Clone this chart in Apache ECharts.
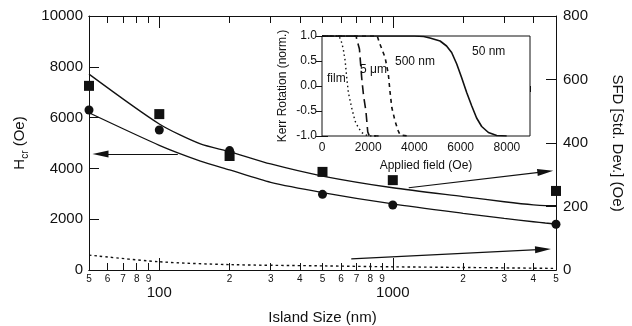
<!DOCTYPE html>
<html><head><meta charset="utf-8">
<script src="https://cdn.jsdelivr.net/npm/echarts@6/dist/echarts.min.js"></script>
<style>html,body{margin:0;padding:0;background:#fff}#c{width:632px;height:326px}</style>
</head><body><div id="c"></div>
<script>
// ---- main plot data ----
const sizes = [50, 100, 200, 500, 1000, 5000];
const hcrPoints = [6300, 5510, 4700, 2980, 2560, 1800];
const sfdPoints = [580, 491, 359, 309, 283, 249];
const fitSizes = [50, 100, 150, 200, 300, 500, 1000, 2000, 3000, 4000, 4500, 5000];
const hcrFit = [6190, 4910, 4290, 3940, 3450, 3050, 2600, 2230, 2030, 1900, 1850, 1810];
const sfdFit = [617, 460, 397, 373, 334, 296, 259, 231, 215, 205, 203, 203];
const dottedSizes = [50, 100, 200, 500, 1000, 2000, 5000];
const sfdDotted = [47, 26, 17, 13, 10, 8, 5];
// arrows: [tail, tip] in data values
const arrowHcr = [[120, 4570], [56, 4570]];
const arrowSfdUpper = [[1170, 259], [4500, 310]];
const arrowSfdLower = [[664, 35], [4400, 65]];
// ticks
const majorTicks = [100, 1000];
const minorTicks = [50, 60, 70, 80, 90, 200, 300, 400, 500, 600, 700, 800, 900, 2000, 3000, 4000, 5000];
// ---- inset data ----
const kerr50nmX = [0, 1000, 2000, 3000, 4000, 4400, 4670, 5110, 5390, 5610, 5830, 6040, 6260, 6480, 6690, 6910, 7200, 7560, 7990];
const kerr50nmY = [1, 1, 1, 1, 1, 0.99, 0.96, 0.9, 0.8, 0.67, 0.44, 0.17, -0.13, -0.4, -0.64, -0.81, -0.93, -0.99, -1];
const kerr500nmX = [0, 2390, 2480, 2730, 2870, 2940, 3020, 3160, 3300, 3380, 3700];
const kerr500nmY = [1, 1, 0.87, 0.57, 0.24, -0.1, -0.43, -0.7, -0.9, -0.98, -1];
const kerr5umX = [0, 1480, 1500, 1620, 1720, 1800, 1900, 1980, 2050, 2450];
const kerr5umY = [1, 1, 0.94, 0.74, 0.15, -0.2, -0.5, -0.92, -1, -1];
const kerrFilmX = [0, 700, 810, 920, 1000, 1070, 1140, 1280, 1430, 1570, 1720, 1860, 2000, 2450];
const kerrFilmY = [1, 1, 0.94, 0.74, 0.51, 0.17, -0.13, -0.43, -0.7, -0.83, -0.93, -0.97, -1, -1];

const FONT = '"Liberation Sans", Arial, Helvetica, sans-serif';
const INK = '#111';
const zip = (a, b) => a.map((v, i) => [v, b[i]]);
const plain = v => String(v);

function logAxis(position, ticks, len, labelOpt, extra) {
  return Object.assign({
    type: 'log', logBase: 10, gridIndex: 0, min: 50, max: 5000, position: position,
    axisLine: { show: true, lineStyle: { color: INK, width: 1 } },
    axisTick: { show: true, inside: true, length: len, customValues: ticks, lineStyle: { color: INK } },
    axisLabel: labelOpt ? Object.assign({ show: true, customValues: ticks, color: INK, fontFamily: FONT, formatter: plain }, labelOpt) : { show: false },
    splitLine: { show: false }, minorTick: { show: false }
  }, extra || {});
}
function arrowLine(pair) {
  return [{ coord: pair[0] }, { coord: pair[1] }];
}

const chart = echarts.init(document.getElementById('c'));
const option = {
  animation: false,
  backgroundColor: '#fff',
  textStyle: { fontFamily: FONT, color: INK },
  grid: [
    { left: 89, right: 76, top: 16, bottom: 56, outerBoundsMode: 'none', containLabel: false },
    { left: 322, top: 36, width: 208, height: 100, outerBoundsMode: 'none', containLabel: false,
      show: true, backgroundColor: '#fff', borderColor: INK, borderWidth: 1, z: 5 }
  ],
  xAxis: [
    logAxis('bottom', majorTicks, 12, { fontSize: 15, margin: 15 },
      { name: 'Island Size (nm)', nameLocation: 'middle', nameGap: 40,
        nameTextStyle: { fontSize: 15, color: INK, fontFamily: FONT } }),
    logAxis('bottom', minorTicks, 7, { fontSize: 10, margin: 4, formatter: v => String(v).charAt(0) }),
    logAxis('top', majorTicks, 12, null),
    logAxis('top', minorTicks, 7, null),
    { type: 'value', gridIndex: 1, min: 0, max: 9000, interval: 2000, position: 'bottom',
      axisLine: { show: true, lineStyle: { color: INK } },
      axisTick: { show: true, inside: true, length: 6, lineStyle: { color: INK } },
      axisLabel: { show: true, fontSize: 12, margin: 6, color: INK, fontFamily: FONT, showMaxLabel: false, formatter: plain },
      splitLine: { show: false },
      name: 'Applied field (Oe)', nameLocation: 'middle', nameGap: 24,
      nameTextStyle: { fontSize: 12, color: INK, fontFamily: FONT } },
    { type: 'value', gridIndex: 1, min: 0, max: 9000, interval: 2000, position: 'top',
      axisLine: { show: true, lineStyle: { color: INK } },
      axisTick: { show: true, inside: true, length: 6, lineStyle: { color: INK } },
      axisLabel: { show: false }, splitLine: { show: false } }
  ],
  yAxis: [
    { type: 'value', gridIndex: 0, min: 0, max: 10000, interval: 2000, position: 'left',
      axisLine: { show: true, lineStyle: { color: INK } },
      axisTick: { show: true, inside: true, length: 10, lineStyle: { color: INK } },
      axisLabel: { fontSize: 15, margin: 6, color: INK, fontFamily: FONT, formatter: plain },
      splitLine: { show: false },
      name: '{h|H}{s|cr}{h| (Oe)}', nameLocation: 'middle', nameGap: 58, nameRotate: 90,
      nameTextStyle: { color: INK, fontFamily: FONT, rich: {
        h: { fontSize: 15, fontFamily: FONT, color: INK, verticalAlign: 'top' },
        s: { fontSize: 10, fontFamily: FONT, color: INK, verticalAlign: 'top', padding: [8, 0, 0, 0] } } } },
    { type: 'value', gridIndex: 0, min: 0, max: 800, interval: 200, position: 'right',
      axisLine: { show: true, lineStyle: { color: INK } },
      axisTick: { show: true, inside: true, length: 10, lineStyle: { color: INK } },
      axisLabel: { fontSize: 15, margin: 7, color: INK, fontFamily: FONT, formatter: plain },
      splitLine: { show: false },
      name: 'SFD [Std. Dev.] (Oe)', nameLocation: 'middle', nameGap: 54, nameRotate: -90,
      nameTextStyle: { fontSize: 15, color: INK, fontFamily: FONT } },
    { type: 'value', gridIndex: 1, min: -1, max: 1, interval: 0.5, position: 'left',
      axisLine: { show: true, lineStyle: { color: INK } },
      axisTick: { show: true, inside: true, length: 6, lineStyle: { color: INK } },
      axisLabel: { fontSize: 12, margin: 5, color: INK, fontFamily: FONT, formatter: v => v.toFixed(1) },
      splitLine: { show: false },
      name: 'Kerr Rotation (norm.)', nameLocation: 'middle', nameGap: 33, nameRotate: 90,
      nameTextStyle: { fontSize: 12, color: INK, fontFamily: FONT } },
    { type: 'value', gridIndex: 1, min: -1, max: 1, interval: 0.5, position: 'right',
      axisLine: { show: true, lineStyle: { color: INK } },
      axisTick: { show: true, inside: true, length: 6, lineStyle: { color: INK } },
      axisLabel: { show: false }, splitLine: { show: false } }
  ],
  series: [
    { type: 'line', name: 'Hcr fit', xAxisIndex: 0, yAxisIndex: 0, data: zip(fitSizes, hcrFit),
      smooth: 0.25, showSymbol: false, lineStyle: { color: INK, width: 1.3 }, silent: true,
      markLine: { silent: true, symbol: ['none', 'triangle'], symbolSize: [7, 16], label: { show: false },
        lineStyle: { color: INK, width: 1.2, type: 'solid' }, data: [arrowLine(arrowHcr)] } },
    { type: 'line', name: 'SFD fit', xAxisIndex: 0, yAxisIndex: 1, data: zip(fitSizes, sfdFit),
      smooth: 0.25, showSymbol: false, lineStyle: { color: INK, width: 1.3 }, silent: true,
      markLine: { silent: true, symbol: ['none', 'triangle'], symbolSize: [7, 16], label: { show: false },
        lineStyle: { color: INK, width: 1.2, type: 'solid' }, data: [arrowLine(arrowSfdUpper), arrowLine(arrowSfdLower)] } },
    { type: 'line', name: 'SFD dotted', xAxisIndex: 0, yAxisIndex: 1, data: zip(dottedSizes, sfdDotted),
      smooth: 0.3, showSymbol: false, lineStyle: { color: INK, width: 1.4, type: [2.5, 3] }, silent: true },
    { type: 'scatter', name: 'SFD', xAxisIndex: 0, yAxisIndex: 1, data: zip(sizes, sfdPoints),
      symbol: 'rect', symbolSize: 10, itemStyle: { color: INK, opacity: 1 }, z: 4 },
    { type: 'scatter', name: 'Hcr', xAxisIndex: 0, yAxisIndex: 0, data: zip(sizes, hcrPoints),
      symbol: 'circle', symbolSize: 9, itemStyle: { color: INK, opacity: 1 }, z: 4 },
    { type: 'line', name: '50 nm', xAxisIndex: 4, yAxisIndex: 2, data: zip(kerr50nmX, kerr50nmY),
      showSymbol: false, lineStyle: { color: INK, width: 1.6 }, z: 6 },
    { type: 'line', name: '500 nm', xAxisIndex: 4, yAxisIndex: 2, data: zip(kerr500nmX, kerr500nmY),
      showSymbol: false, lineStyle: { color: INK, width: 1.6, type: [4, 4] }, z: 6 },
    { type: 'line', name: '5 μm', xAxisIndex: 4, yAxisIndex: 2, data: zip(kerr5umX, kerr5umY),
      showSymbol: false, lineStyle: { color: INK, width: 1.6, type: [9, 5] }, z: 6 },
    { type: 'line', name: 'film', xAxisIndex: 4, yAxisIndex: 2, data: zip(kerrFilmX, kerrFilmY),
      showSymbol: false, lineStyle: { color: INK, width: 1.4, type: [1.5, 3] }, z: 6 }
  ],
  graphic: [
    { type: 'text', z: 100, style: { text: 'film', x: 327, y: 79, verticalAlign: 'middle', font: '12px ' + FONT, fill: INK } },
    { type: 'text', z: 100, style: { text: '5 μm', x: 360, y: 70, verticalAlign: 'middle', font: '12px ' + FONT, fill: INK } },
    { type: 'text', z: 100, style: { text: '500 nm', x: 395, y: 62, verticalAlign: 'middle', font: '12px ' + FONT, fill: INK } },
    { type: 'text', z: 100, style: { text: '50 nm', x: 472, y: 52, verticalAlign: 'middle', font: '12px ' + FONT, fill: INK } }
  ]
};
chart.setOption(option);
</script>
</body></html>
